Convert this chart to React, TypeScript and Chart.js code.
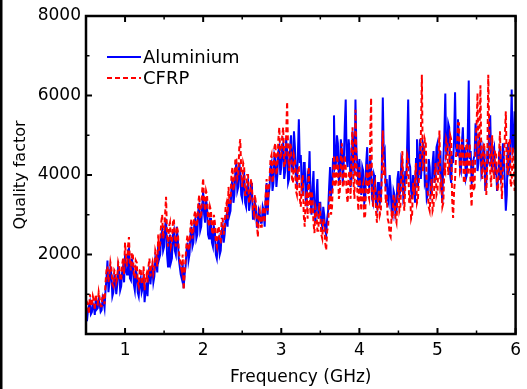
import React, { useEffect, useRef } from "react";
import { Chart, registerables } from "chart.js";

Chart.register(...registerables);

// Frequency sampling (GHz)
const FREQ_START = 0.5;
const FREQ_STEP = 0.0125;

// Quality factor, Aluminium cavity (one row = 0.25 GHz)
const ALUMINIUM = [
  450, 320, 600, 700, 800, 500, 550, 760, 700, 480, 900, 620, 650, 880, 750, 560, 600, 900, 800, 650,
  1100, 1400, 1850, 1050, 1300, 1650, 1500, 950, 1050, 1450, 1400, 1000, 1250, 1700, 1600, 1100, 1200, 1550, 1700, 1300,
  2000, 1600, 1500, 2100, 2150, 1400, 1350, 1900, 1700, 1250, 1100, 1600, 1500, 1050, 950, 1300, 1400, 1050, 1150, 1500,
  800, 1100, 1300, 950, 1500, 1700, 1250, 1550, 1700, 1300, 1450, 1900, 1800, 1550, 2300, 1900, 2000, 2500, 2600, 2100,
  2200, 2700, 2900, 2000, 1700, 2300, 2500, 1800, 1900, 2500, 2600, 2100, 2000, 2700, 2400, 1900, 1700, 1500, 1400, 1800,
  1150, 1500, 1700, 2100, 2300, 1850, 2000, 2500, 2700, 2200, 2300, 2800, 2900, 2400, 2500, 3100, 3300, 2600, 2700, 3200,
  3600, 3000, 2800, 3400, 3200, 2500, 2400, 2900, 2900, 2300, 2200, 2700, 2600, 2000, 1900, 2300, 2400, 2000, 2100, 2600,
  2700, 2300, 2500, 2900, 3000, 2700, 3400, 3000, 3100, 3700, 3900, 3300, 3500, 4100, 4300, 3600, 3700, 4300, 4100, 3500,
  3400, 3900, 4000, 3300, 3200, 3700, 3800, 3100, 3300, 3800, 3600, 2900, 2900, 3300, 3200, 2700, 2700, 3100, 3000, 2800,
  2800, 3200, 3100, 2700, 3400, 3800, 3000, 3500, 3700, 4200, 4300, 3600, 3800, 4500, 4400, 3700, 4000, 4600, 4700, 4000,
  4200, 4700, 4800, 3900, 4100, 4900, 4600, 3800, 3900, 4700, 5000, 4100, 4200, 5100, 4700, 3900, 3800, 4500, 5400, 4300,
  4500, 3700, 3500, 4300, 4300, 3400, 3300, 4000, 3900, 4600, 3400, 3000, 3700, 4100, 3100, 2800, 3500, 3900, 2900, 3300,
  3300, 2800, 2700, 3200, 3000, 2600, 2500, 2900, 3100, 3700, 4200, 3500, 3600, 4400, 5500, 4200, 4300, 5000, 4800, 3800,
  4000, 4900, 4600, 3800, 4300, 5200, 5900, 4400, 4200, 4900, 4600, 3700, 3900, 5100, 4700, 4000, 5900, 4600, 4200, 3700,
  4400, 3700, 3500, 4200, 4100, 3300, 3400, 4300, 4700, 3800, 3700, 4500, 4200, 3400, 3300, 4000, 3900, 3300, 3200, 3800,
  3800, 3300, 3400, 4200, 5950, 4500, 4600, 3700, 3900, 3400, 3300, 4000, 3700, 3100, 3000, 3600, 3500, 3000, 3100, 3900,
  4100, 3500, 3600, 4400, 4300, 3400, 3500, 4100, 3900, 4800, 5900, 4300, 4200, 3600, 3400, 4000, 3800, 3300, 4400, 4900,
  3700, 4300, 4900, 3900, 4300, 4800, 4700, 3800, 3900, 3400, 3500, 4400, 4200, 3500, 3600, 4300, 4600, 3800, 4000, 4700,
  4800, 4000, 4200, 4600, 3700, 3300, 4400, 5000, 6050, 4500, 4600, 5300, 5200, 4000, 3800, 4500, 4300, 4900, 6080, 4700,
  4500, 5400, 4900, 4200, 4100, 4800, 5200, 4300, 4700, 3900, 4000, 5000, 6380, 4400, 4600, 3800, 3900, 4400, 4500, 5300,
  5000, 4100, 4300, 4900, 4800, 4000, 4100, 4700, 4600, 3600, 3800, 4500, 4400, 5200, 5500, 4300, 4200, 4600, 4700, 4000,
  4300, 3600, 3900, 4500, 4700, 3900, 4000, 4800, 4400, 3800, 3100, 3500, 4800, 4100, 4200, 5000, 6150, 4600, 4700, 5600,
  4300,
];

// Quality factor, CFRP cavity (one row = 0.25 GHz)
const CFRP = [
  550, 800, 750, 500, 1000, 720, 700, 950, 850, 600, 1000, 780, 750, 1050, 900, 700, 700, 1000, 950, 750,
  1300, 1600, 1700, 1300, 1500, 1800, 1650, 1250, 1200, 1600, 1550, 1300, 1400, 1800, 1700, 1350, 1350, 1750, 1900, 1500,
  2300, 1900, 1700, 2200, 2440, 1800, 1600, 2050, 2000, 1500, 1400, 1850, 1800, 1300, 1200, 1600, 1650, 1250, 1300, 1700,
  1100, 1400, 1500, 1300, 1700, 1900, 1450, 1700, 1800, 1500, 1600, 2100, 2000, 1700, 2500, 2100, 2300, 2800, 3000, 2400,
  2600, 3000, 3450, 2500, 2200, 2700, 2800, 2200, 2300, 2800, 2900, 2400, 2200, 2700, 2600, 2100, 1900, 1700, 1600, 2000,
  1110, 1500, 1900, 2300, 2500, 2100, 2200, 2700, 2900, 2400, 2600, 3000, 3100, 2700, 2800, 3300, 3500, 2900, 3000, 3600,
  3920, 3300, 3100, 3600, 3500, 2900, 2700, 3200, 3100, 2600, 2500, 3000, 2800, 2300, 2200, 2700, 2700, 2300, 2300, 2900,
  2900, 2500, 2700, 3200, 3300, 2900, 3700, 3300, 3300, 4000, 4200, 3600, 3800, 4430, 4400, 3900, 4000, 4700, 4900, 4100,
  3700, 4300, 4200, 3500, 3500, 4000, 4000, 3300, 3400, 3900, 3700, 3100, 3000, 3500, 3300, 2800, 2440, 3000, 3100, 2700,
  2700, 3100, 3200, 2800, 3500, 3900, 3100, 3600, 3900, 4400, 4500, 3800, 4000, 4700, 4800, 4000, 4200, 4900, 5200, 4400,
  4500, 5000, 5200, 4200, 4300, 5000, 5840, 4600, 4100, 4800, 4700, 3900, 3800, 4500, 4400, 3600, 3500, 4200, 4200, 3400,
  3200, 3800, 4000, 3000, 2700, 3400, 3600, 2900, 4200, 3500, 3000, 3600, 3400, 2800, 2540, 3200, 3100, 2600, 2600, 3300,
  3000, 2500, 2400, 2900, 2800, 2300, 2110, 2600, 2700, 3300, 3600, 3000, 3200, 3900, 4500, 3700, 3800, 4500, 4300, 3400,
  3600, 4400, 4800, 3700, 3700, 4500, 4200, 3500, 3300, 4000, 4100, 3400, 4700, 5200, 3800, 3400, 5640, 4300, 3500, 3100,
  4200, 3500, 3100, 3700, 3800, 2900, 3000, 3900, 4300, 3500, 3400, 4800, 5940, 3600, 3200, 3700, 3800, 3100, 2800, 3300,
  3600, 3000, 3100, 4000, 5120, 4000, 4200, 3300, 3500, 2900, 2800, 2500, 2440, 3000, 2900, 3500, 3400, 2900, 2800, 3400,
  3800, 3100, 3200, 4000, 4600, 3600, 3100, 3700, 3700, 4500, 4400, 3300, 3500, 2900, 3000, 3800, 3500, 3900, 4300, 3300,
  3400, 3900, 4200, 5000, 6520, 4100, 4300, 4900, 4800, 3700, 3600, 3200, 3100, 3600, 3900, 3100, 3200, 4000, 4300, 3500,
  3600, 4300, 5120, 3700, 3800, 3200, 3300, 4200, 4100, 4900, 4800, 4000, 4200, 5000, 4900, 3400, 2920, 3600, 3900, 4500,
  4700, 5300, 5300, 4100, 4200, 4900, 4700, 3800, 3800, 4600, 4900, 4000, 4300, 4800, 3600, 3200, 4400, 3600, 3700, 4800,
  5200, 6060, 4400, 5000, 6260, 4200, 3900, 4700, 4800, 3800, 3500, 4300, 6520, 5100, 4100, 3700, 5000, 4200, 3900, 4600,
  4600, 3700, 3600, 4500, 5100, 4000, 3400, 4100, 4300, 5000, 5600, 4200, 4000, 4800, 4900, 3700, 3800, 4700, 4400, 3600,
  3900,
];

const X_TICKS = [1, 2, 3, 4, 5, 6];
const X_MINOR = [1.5, 2.5, 3.5, 4.5, 5.5];
const Y_TICKS = [2000, 4000, 6000, 8000];
const Y_MINOR = [1000, 3000, 5000, 7000];
const SERIES_NAMES = ["Aluminium", "CFRP"];
const SERIES_COLORS = ["#0000ff", "#ff0000"];

const FONT = "DejaVu Sans";

const framePlugin = {
  id: "frame",
  afterDraw(chart: any) {
    const { ctx, chartArea: a, scales } = chart;
    const x = scales.x;
    const y = scales.y;
    ctx.save();
    ctx.strokeStyle = "#000";
    const seg = (x1: number, y1: number, x2: number, y2: number) => {
      ctx.beginPath();
      ctx.moveTo(x1, y1);
      ctx.lineTo(x2, y2);
      ctx.stroke();
    };
    // major ticks
    ctx.lineWidth = 2;
    const MAJ = 6;
    const MIN = 3.5;
    X_TICKS.forEach((v) => {
      const p = x.getPixelForValue(v);
      seg(p, a.bottom, p, a.bottom - MAJ);
      seg(p, a.top, p, a.top + MAJ);
    });
    Y_TICKS.forEach((v) => {
      const p = y.getPixelForValue(v);
      seg(a.left, p, a.left + MAJ, p);
      seg(a.right, p, a.right - MAJ, p);
    });
    // minor ticks
    ctx.lineWidth = 1.5;
    X_MINOR.forEach((v) => {
      const p = x.getPixelForValue(v);
      seg(p, a.bottom, p, a.bottom - MIN);
      seg(p, a.top, p, a.top + MIN);
    });
    Y_MINOR.forEach((v) => {
      const p = y.getPixelForValue(v);
      seg(a.left, p, a.left + MIN, p);
      seg(a.right, p, a.right - MIN, p);
    });
    // frame
    ctx.lineWidth = 2.5;
    ctx.strokeRect(a.left, a.top, a.right - a.left, a.bottom - a.top);

    // legend
    const lx = a.left + 21;
    const lw = 34;
    const ly = [a.top + 41, a.top + 62];
    ctx.font = `18px "${FONT}"`;
    ctx.textBaseline = "middle";
    ctx.textAlign = "left";
    SERIES_NAMES.forEach((name, i) => {
      ctx.strokeStyle = SERIES_COLORS[i];
      ctx.lineWidth = 2;
      ctx.setLineDash(i === 1 ? [5, 3] : []);
      seg(lx, ly[i], lx + lw, ly[i]);
      ctx.setLineDash([]);
      ctx.fillStyle = "#000";
      ctx.fillText(name, lx + lw + 2, ly[i] + 1);
    });

    // left edge line of the figure
    ctx.fillStyle = "#000";
    ctx.fillRect(0, 0, 2.5, chart.height);
    ctx.restore();
  },
};

export default function App() {
  const ref = useRef<HTMLCanvasElement>(null);

  useEffect(() => {
    const canvas = ref.current;
    if (!canvas) return;
    const pts = (arr: number[]) =>
      arr.map((v, i) => ({ x: +(FREQ_START + i * FREQ_STEP).toFixed(5), y: v }));

    const tickFont = { family: FONT, size: 17 };
    const chart = new Chart(canvas, {
      type: "line",
      data: {
        datasets: [
          {
            label: SERIES_NAMES[1],
            data: pts(CFRP),
            borderColor: SERIES_COLORS[1],
            borderWidth: 2,
            borderDash: [5, 3],
            pointRadius: 0,
            tension: 0,
            order: 0,
          },
          {
            label: SERIES_NAMES[0],
            data: pts(ALUMINIUM),
            borderColor: SERIES_COLORS[0],
            borderWidth: 2,
            pointRadius: 0,
            tension: 0,
            order: 1,
          },
        ],
      },
      options: {
        animation: false,
        responsive: false,
        devicePixelRatio: 1,
        layout: { padding: { top: 16, right: 8, left: 0, bottom: 0 } },
        plugins: {
          legend: { display: false },
          tooltip: { enabled: false },
        },
        scales: {
          x: {
            type: "linear",
            min: 0.5,
            max: 6,
            grid: { display: false, drawTicks: false },
            border: { display: false },
            afterBuildTicks: (s: any) => {
              s.ticks = X_TICKS.map((v) => ({ value: v }));
            },
            afterFit: (s: any) => {
              s.height = 55;
            },
            ticks: {
              padding: 6,
              color: "#000",
              font: tickFont,
              maxRotation: 0,
              autoSkip: false,
              callback: (v: any) => String(v),
            },
            title: {
              display: true,
              text: "Frequency (GHz)",
              color: "#000",
              font: { family: FONT, size: 17 },
              padding: { top: 0, bottom: 1 },
            },
          },
          y: {
            type: "linear",
            min: 0,
            max: 8000,
            grid: { display: false, drawTicks: false },
            border: { display: false },
            afterBuildTicks: (s: any) => {
              s.ticks = Y_TICKS.map((v) => ({ value: v }));
            },
            afterFit: (s: any) => {
              s.width = 86;
            },
            ticks: {
              padding: 5,
              color: "#000",
              font: tickFont,
              autoSkip: false,
              callback: (v: any) => String(v),
            },
            title: {
              display: true,
              text: "Quality factor",
              color: "#000",
              font: { family: FONT, size: 16 },
              padding: { top: 11, bottom: 0 },
            },
          },
        },
      },
      plugins: [framePlugin],
    } as any);
    return () => chart.destroy();
  }, []);

  return (
    <div
      style={{
        position: "fixed",
        left: 0,
        top: 0,
        width: 527,
        height: 389,
        background: "#fff",
      }}
    >
      <canvas ref={ref} width={527} height={389} style={{ width: 527, height: 389 }} />
    </div>
  );
}
